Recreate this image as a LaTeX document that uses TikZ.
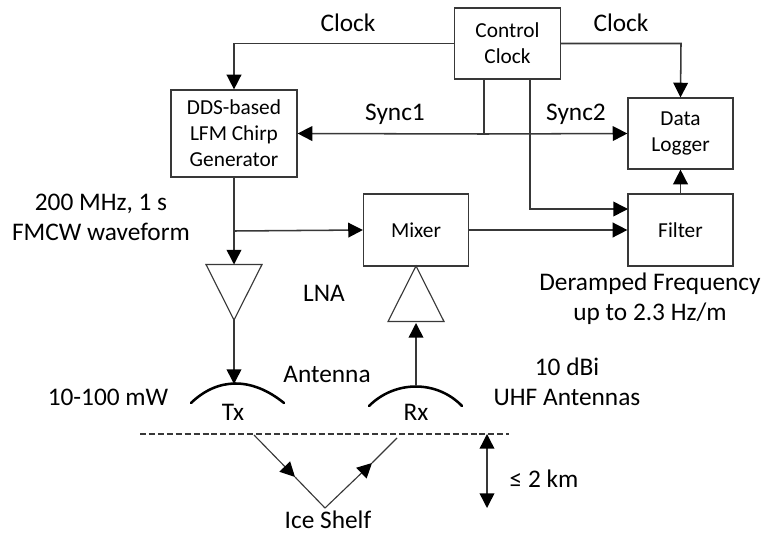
\documentclass[tikz,border=0pt]{standalone}
\usepackage{fontspec}
\setmainfont{Carlito}
\usetikzlibrary{arrows.meta}
\definecolor{linegrey}{gray}{0.22}
\tikzset{
  x=0.75pt,y=-0.75pt,
  box/.style={draw=linegrey,line width=0.9pt,fill=white,inner sep=0pt,align=center,font=\fontsize{16}{19.5}\selectfont},
  lab/.style={inner sep=0pt,align=center,font=\fontsize{19}{22.5}\selectfont},
  wire/.style={draw=linegrey,line width=1.15pt},
  arr/.style={wire,-{Triangle[length=11pt,width=11pt,color=black]}},
  thinarr/.style={draw=linegrey,line width=0.85pt,-{Triangle[length=11pt,width=11pt,color=black]}},
  amp/.style={draw=linegrey,line width=0.85pt,line join=miter},
  dish/.style={draw=black,line width=1.9pt,line cap=round},
}
\begin{document}
\begin{tikzpicture}
\useasboundingbox (0,0) rectangle (762,535);
% blocks
\node[box,minimum width=126*0.75pt,minimum height=87*0.75pt] (dds) at (234,133.5) {DDS-based\\LFM Chirp\\Generator};
\node[box,minimum width=106*0.75pt,minimum height=71*0.75pt] (ctrl) at (507.5,43.5) {Control\\Clock};
\node[box,minimum width=105*0.75pt,minimum height=71*0.75pt] (log) at (680.5,133.5) {Data\\Logger};
\node[box,minimum width=105*0.75pt,minimum height=72*0.75pt] (filt) at (680.5,230) {Filter};
\node[box,minimum width=105*0.75pt,minimum height=72*0.75pt] (mix) at (416,230) {Mixer};
% amplifiers
\coordinate (txtop) at (234,264.5);
\coordinate (txtip) at (234,320);
\coordinate (rxtip) at (416,266);
\coordinate (rxbase) at (416,323);
\draw[amp] (206,264.5) -- (262,264.5) -- (txtip) -- cycle;
\draw[amp] (388,321.5) -- (444,321.5) -- (rxtip) -- cycle;
% antennas
\coordinate (txdish) at (234,384);
\coordinate (rxdish) at (416,386);
\draw[dish] (191,403) .. controls (218,377) and (252,377) .. (284,403);
\draw[dish] (369,406) .. controls (395,380) and (437,380) .. (462,406);
% junctions
\coordinate (jclockl) at (234,43.5);
\coordinate (jclockr) at (681,43.5);
\coordinate (jsync) at (484,134);
\coordinate (jsynctop) at (484,79);
\coordinate (jsync2) at (530,209);
\coordinate (jsync2top) at (530,79);
\coordinate (jfilt) at (628,209);
\coordinate (jbranch) at (234,231);
% connectors
\draw[arr] (ctrl.west) -- (jclockl) -- (dds.north);
\draw[arr] (ctrl.east) -- (jclockr) -- (log.north);
\draw[wire] (jsynctop) -- (jsync);
\draw[arr] (jsync) -- (dds.east);
\draw[arr] (jsync) -- (log.west);
\draw[arr] (jsync2top) -- (jsync2) -- (jfilt);
\draw[arr] (mix.east) -- (filt.west);
\draw[arr] (filt.north) -- (log.south);
\draw[arr] (dds.south) -- (txtop);
\draw[arr] (jbranch) -- (mix.west);
\draw[arr] (txtip) -- (txdish);
\draw[arr] (rxdish) -- (rxbase);
% surface and path
\coordinate (sl) at (140,434);
\coordinate (sr) at (509,434);
\coordinate (va) at (254,435);
\coordinate (vm) at (295,477);
\coordinate (vb) at (325,508);
\coordinate (vn) at (372,463);
\coordinate (vc) at (397,438);
\coordinate (dt) at (487,434);
\coordinate (db) at (487,508);
\draw[draw=linegrey,line width=0.9pt,dashed,dash pattern=on 4.5pt off 2.2pt] (sl) -- (sr);
\draw[thinarr] (va) -- (vm);
\draw[draw=linegrey,line width=0.85pt] (vm) -- (vb);
\draw[thinarr] (vb) -- (vn);
\draw[draw=linegrey,line width=0.85pt] (vn) -- (vc);
\draw[draw=linegrey,line width=1.1pt,{Triangle[length=11pt,width=11pt,color=black]}-{Triangle[length=11pt,width=11pt,color=black]}] (dt) -- (db);
% labels
\node[lab] (l1) at (348,23) {Clock};
\node[lab] (l2) at (621,23) {Clock};
\node[lab] (l3) at (395,114) {Sync1};
\node[lab] (l4) at (576,114) {Sync2};
\node[lab] (l5) at (101,217) {200 MHz, 1 s\\FMCW waveform};
\node[lab] (l6) at (324,293) {LNA};
\node[lab] (l7) at (327,374) {Antenna};
\node[lab] (l8) at (108,397) {10-100 mW};
\node[lab] (l9) at (233,412) {Tx};
\node[lab] (l10) at (416,412) {Rx};
\node[lab] (l11) at (650,299) {Deramped Frequency\\up to 2.3 Hz/m};
\node[lab] (l12) at (567,382) {10 dBi\\UHF Antennas};
\node[lab] (l13) at (544,479) {≤ 2 km};
\node[lab,align=none] (l14) at (328,520) {Ice Shelf};
\end{tikzpicture}
\end{document}
